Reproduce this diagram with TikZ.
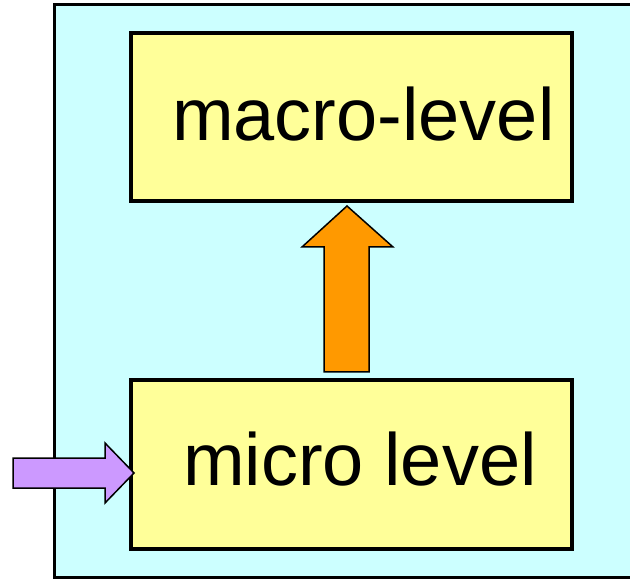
\documentclass[tikz,border=0pt]{standalone}
\usepackage{fontspec}
\setmainfont{Liberation Sans}
\definecolor{bgcyan}{HTML}{CCFFFF}
\definecolor{boxyellow}{HTML}{FFFF99}
\definecolor{arrorange}{HTML}{FF9900}
\definecolor{arrpurple}{HTML}{CC99FF}
\begin{document}
\begin{tikzpicture}[x=1pt,y=-1pt,
  levelbox/.style={draw=black,line width=4pt,fill=boxyellow,rectangle,inner sep=0pt,minimum width=441pt,minimum height=168pt},
  leveltext/.style={anchor=base west,inner sep=0pt,font=\fontsize{74}{80}\selectfont},
  blockarrow/.style={draw=black,line width=1.5pt,line join=miter}]
\useasboundingbox (0,0) rectangle (630,580);
\clip (0,0) rectangle (630,580);
\draw[line width=3pt,fill=bgcyan] (54.5,4.5) rectangle (660,577.5);
\node[levelbox] (macro) at (351.5,117) {};
\node[levelbox] (micro) at (351.5,464.5) {};
\node[leveltext] (macrotext) at (172,141) {macro-level};
\node[leveltext] (microtext) at (183,485) {micro level};
\draw[blockarrow,fill=arrorange] (324,372) -- (324,247) -- (302,247) -- (347,206) -- (393,247) -- (369,247) -- (369,372) -- cycle;
\draw[blockarrow,fill=arrpurple] (13,458) -- (105,458) -- (105,443) -- (134,473) -- (105,503) -- (105,488) -- (13,488) -- cycle;
\end{tikzpicture}
\end{document}
